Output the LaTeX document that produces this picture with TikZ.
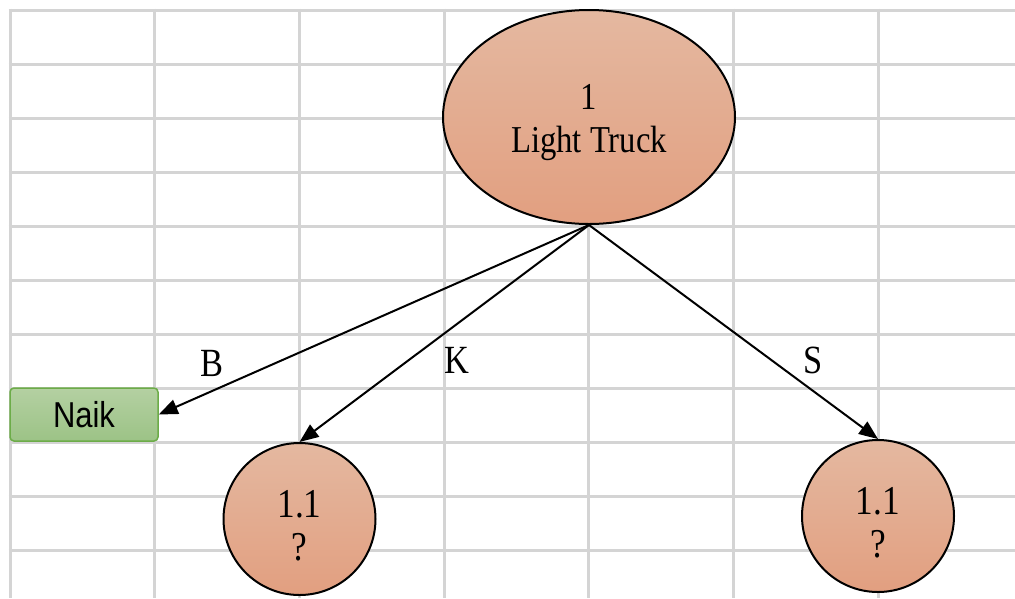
\documentclass[tikz,border=0pt]{standalone}
\usepackage{fontspec}
\newfontfamily\nodeserif[FakeStretch=0.86]{Liberation Serif}
\newfontfamily\nodesans[FakeStretch=0.86]{Liberation Sans}
\usetikzlibrary{arrows.meta,shapes.geometric}
\definecolor{gridgray}{RGB}{212,212,212}
\definecolor{nodetop}{RGB}{228,184,160}
\definecolor{nodebottom}{RGB}{226,159,128}
\definecolor{leaftop}{RGB}{180,208,162}
\definecolor{leafbottom}{RGB}{156,195,134}
\definecolor{leafborder}{RGB}{108,172,72}
\begin{document}
\begin{tikzpicture}[x=1pt,y=-1pt,
  gridline/.style={draw=gridgray,line width=3pt},
  decision/.style={draw=black,line width=2pt,top color=nodetop,bottom color=nodebottom,
    align=center,inner sep=0pt,font=\nodeserif\fontsize{38}{43}\selectfont},
  leaf/.style={draw=leafborder,line width=1.5pt,rounded corners=4pt,top color=leaftop,
    bottom color=leafbottom,inner sep=0pt,font=\nodesans\fontsize{36}{40}\selectfont},
  link/.style={draw=black,line width=2pt,-{Triangle[length=19pt,width=15pt]}},
  edgelabel/.style={inner sep=0pt,font=\nodeserif\fontsize{40}{44}\selectfont}
]
\useasboundingbox (0,0) rectangle (1015,598);
\clip (0,0) rectangle (1015,598);
% spreadsheet grid
\foreach \i in {0,...,6}
  \draw[gridline] ({10+144.67*\i},8.5) -- ({10+144.67*\i},598);
\foreach \j in {0,...,10}
  \draw[gridline] (8.5,{10+54*\j}) -- (1015,{10+54*\j});
% tree nodes (the struts lower the two text lines a little inside each shape)
\node[ellipse,decision,minimum width=292pt,minimum height=214pt] (root) at (589,117)
  {\rule{0pt}{37pt}1\\Light Truck};
\node[circle,decision,minimum size=152pt,font=\nodeserif\fontsize{41}{43}\selectfont] (kid) at (299.5,519)
  {\rule{0pt}{40pt}1.1\\?};
\node[circle,decision,minimum size=152pt,font=\nodeserif\fontsize{41}{43}\selectfont] (sid) at (878,516)
  {\rule{0pt}{40pt}1.1\\?};
\node[leaf,minimum width=148pt,minimum height=53pt] (naik) at (84,414.5) {Naik};
% branches
\draw[link] (root.south) -- (naik.east);
\draw[link] (root.south) -- (kid.north);
\draw[link] (root.south) -- (sid.north);
\node[edgelabel] (lb) at (212,363) {B};
\node[edgelabel] (lk) at (457,360) {K};
\node[edgelabel] (ls) at (813,360) {S};
\end{tikzpicture}
\end{document}
